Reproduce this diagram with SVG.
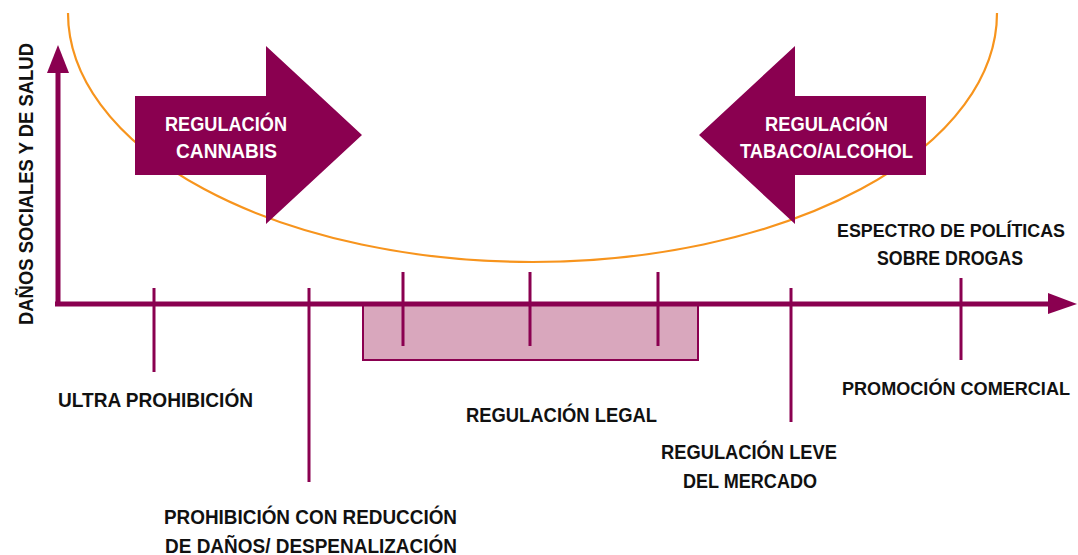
<svg xmlns="http://www.w3.org/2000/svg" width="1078" height="555" viewBox="0 0 1078 555">
<style>
.t{font-family:"Liberation Sans Narrow","Liberation Sans",Arial,sans-serif;font-weight:bold;font-size:20px;text-anchor:middle;fill:#111}
.s{font-size:19px}
.xs{font-size:18px}
.w{fill:#fff}
.ax{stroke:#8a0050;stroke-width:5;fill:none}
.tk{stroke:#8a0050;stroke-width:3;fill:none}
.pu{fill:#8a0050}
</style>
<rect width="1078" height="555" fill="#fff"/>
<g id="curve">
<path d="M68,13 A464.5,249 0 0 0 997,13" fill="none" stroke="#f7941d" stroke-width="2.2"/>
</g>
<g id="band">
<rect x="363" y="305" width="335" height="55" fill="#d9a7bd" stroke="#8a0050" stroke-width="2"/>
</g>
<g id="connectors">
<path class="ax" d="M58,305 V70"/>
<polygon class="pu" points="58,45 47,73 69,73"/>
<path class="ax" d="M55,304 H1052"/>
<polygon class="pu" points="1077,304 1048,293 1048,314"/>
<path class="tk" d="M154,288 V372 M309,288 V482 M403,272 V346 M530,272 V346 M658,272 V346 M791,288 V422 M961,278 V360"/>
</g>
<g id="arrow-cannabis">
<polygon class="pu" points="135,96 266,96 266,46 362,135 266,224 266,175 135,175"/>
<text class="t w" x="226" y="130.5" textLength="122" lengthAdjust="spacingAndGlyphs">REGULACIÓN</text>
<text class="t w" x="226.5" y="157.5" textLength="101" lengthAdjust="spacingAndGlyphs">CANNABIS</text>
</g>
<g id="arrow-tabaco">
<polygon class="pu" points="926,96 795,96 795,46 699,135 795,224 795,175 926,175"/>
<text class="t w" x="826.5" y="130.5" textLength="123" lengthAdjust="spacingAndGlyphs">REGULACIÓN</text>
<text class="t w" x="826.5" y="157.5" textLength="173" lengthAdjust="spacingAndGlyphs">TABACO/ALCOHOL</text>
</g>
<g id="y-label">
<text class="t" transform="translate(33,184) rotate(-90)" x="0" y="0" textLength="282" lengthAdjust="spacingAndGlyphs">DAÑOS SOCIALES Y DE SALUD</text>
</g>
<g id="x-label">
<text class="t s" x="951" y="236.5" textLength="228" lengthAdjust="spacingAndGlyphs">ESPECTRO DE POLÍTICAS</text>
<text class="t" x="950" y="265" textLength="146" lengthAdjust="spacingAndGlyphs">SOBRE DROGAS</text>
</g>
<g id="ultra">
<text class="t" x="155.5" y="407" textLength="195" lengthAdjust="spacingAndGlyphs">ULTRA PROHIBICIÓN</text>
</g>
<g id="reduccion">
<text class="t" x="310.5" y="524" textLength="293" lengthAdjust="spacingAndGlyphs">PROHIBICIÓN CON REDUCCIÓN</text>
<text class="t" x="311" y="552.5" textLength="292" lengthAdjust="spacingAndGlyphs">DE DAÑOS/ DESPENALIZACIÓN</text>
</g>
<g id="legal">
<text class="t" x="561.5" y="421.5" textLength="191" lengthAdjust="spacingAndGlyphs">REGULACIÓN LEGAL</text>
</g>
<g id="leve">
<text class="t" x="749" y="459.3" textLength="176" lengthAdjust="spacingAndGlyphs">REGULACIÓN LEVE</text>
<text class="t" x="750" y="488.3" textLength="134" lengthAdjust="spacingAndGlyphs">DEL MERCADO</text>
</g>
<g id="promocion">
<text class="t xs" x="956" y="395" textLength="228" lengthAdjust="spacingAndGlyphs">PROMOCIÓN COMERCIAL</text>
</g>
</svg>
